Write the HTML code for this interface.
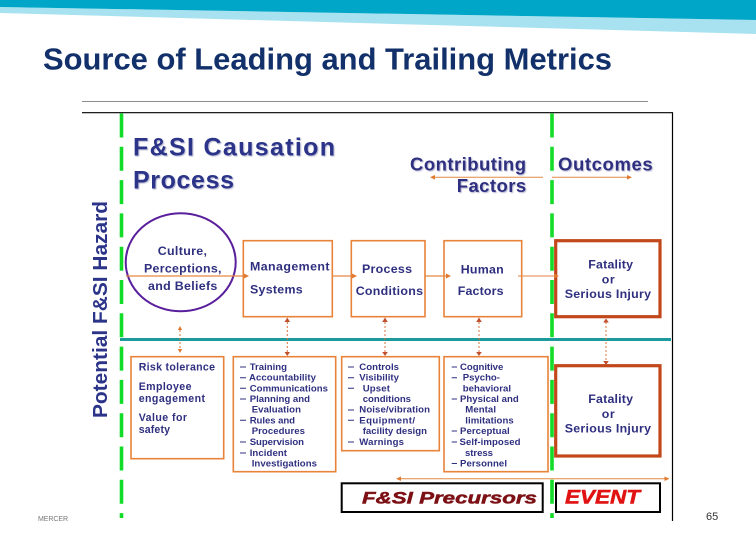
<!DOCTYPE html>
<html><head><meta charset="utf-8"><style>
html,body{margin:0;padding:0;background:#fff;width:756px;height:540px;overflow:hidden}
svg{display:block}
text{font-family:"Liberation Sans",sans-serif;font-weight:bold;fill:#2f2f80}
.b{fill:none;stroke:#e8833a;stroke-width:1.6}
.r{fill:none;stroke:#c2481c;stroke-width:3.2}
.k{fill:none;stroke:#000;stroke-width:2}
.h{font-size:18.5px;filter:drop-shadow(1px 1px .4px #b5b5d0)}
.t{font-size:25px;fill:#2b3488;filter:drop-shadow(1px 1px .4px #b5b5d0)}
.m{font-size:12.4px}
.s{font-size:10.6px}
.l{font-size:9.6px}
.g{stroke:#12dc28;stroke-width:3.6;stroke-dasharray:24 9.3;fill:none}
.o{stroke:#e08a45;stroke-width:1;fill:none}
.d{stroke:#d9733a;stroke-width:1;stroke-dasharray:2 2;fill:none}
.ah{fill:#e07a30}
.ad{fill:#c0502e}
.ds{stroke:#2f2f80;stroke-width:1;fill:none}
.soft{filter:blur(.3px)}
</style></head><body>
<svg width="756" height="540" viewBox="0 0 756 540" xmlns="http://www.w3.org/2000/svg">
<polygon points="0,7 756,20 756,34 0,13" fill="#a8e2f0"/>
<polygon points="0,0 756,0 756,20 0,7" fill="#00a6c7"/>
<text x="43" y="69.5" font-size="31" textLength="569" lengthAdjust="spacingAndGlyphs" style="fill:#123069">Source of Leading and Trailing Metrics</text>
<line x1="82" y1="101.5" x2="648" y2="101.5" stroke="#8c8c8c" stroke-width="1"/>
<path d="M82 112.7H672.5V521" fill="none" stroke="#000" stroke-width="1.2"/>

<g class="soft">
<path class="g" d="M121.5 113.5V518"/>
<path class="g" d="M552 113.5V518"/>
<line x1="120" y1="339.5" x2="671" y2="339.5" stroke="#1c9a9c" stroke-width="3"/>

<text transform="translate(107,418) rotate(-90)" font-size="20" textLength="217" lengthAdjust="spacingAndGlyphs" style="fill:#2b3488">Potential F&amp;SI Hazard</text>
<text class="t" x="133" y="155.7" textLength="202">F&amp;SI Causation</text>
<text class="t" x="133" y="188.3" textLength="101">Process</text>
<text class="h" x="410" y="170.7" textLength="116">Contributing</text>
<text class="h" x="456.7" y="192" textLength="69.5">Factors</text>
<text class="h" x="558" y="170.7" textLength="94.7">Outcomes</text>

<path class="o" d="M434 177.3H543M552 177.3H628"/>
<polygon class="ah" points="430,177.3 435,175 435,179.6"/>
<polygon class="ah" points="632,177.3 627,175 627,179.6"/>

<ellipse cx="180.7" cy="262.3" rx="55" ry="49" fill="none" stroke="#5a1f9c" stroke-width="2"/>
<rect class="b" x="243.3" y="240.7" width="89" height="76"/>
<rect class="b" x="351.3" y="240.7" width="73.7" height="76"/>
<rect class="b" x="444" y="240.7" width="77.7" height="76"/>
<rect class="r" x="555.7" y="240.7" width="104.3" height="76"/>

<path d="M126 276H245M332 276H354M425 276H447" stroke="#e58640" stroke-width="1.2" fill="none"/>
<path d="M518 276H556" stroke="#e58640" stroke-width=".9" fill="none"/>
<polygon class="ah" points="249,276 244,273.5 244,278.5"/>
<polygon class="ah" points="357,276 352,273.5 352,278.5"/>
<polygon class="ah" points="451,276 446,273.5 446,278.5"/>
<polygon class="ah" points="559,276 554,273.5 554,278.5"/>

<text class="m" x="157.7" y="255" textLength="49.3">Culture,</text>
<text class="m" x="144" y="272.7" textLength="77.5">Perceptions,</text>
<text class="m" x="148" y="290" textLength="69.3">and Beliefs</text>
<text class="m" x="250" y="270.7" textLength="79.5">Management</text>
<text class="m" x="250" y="293.3" textLength="52.7">Systems</text>
<text class="m" x="362" y="273" textLength="50">Process</text>
<text class="m" x="355.7" y="295" textLength="67.3">Conditions</text>
<text class="m" x="460.7" y="273.3" textLength="43">Human</text>
<text class="m" x="457.7" y="295" textLength="45.8">Factors</text>
<text class="m" x="588.3" y="268.3" textLength="44.7">Fatality</text>
<text class="m" x="601.7" y="283.3" textLength="13">or</text>
<text class="m" x="564.7" y="298" textLength="86.3">Serious Injury</text>

<path class="d" d="M180 330V350M287.3 322V353M385 322V353M479 322V353M606 322V361"/>
<polygon class="ah" points="180,326 177.8,330 182.2,330"/>
<polygon class="ah" points="180,353 177.8,349 182.2,349"/>
<g class="ad">
<polygon points="287.3,317.5 284.5,322 290,322"/><polygon points="287.3,356 284.5,352 290,352"/>
<polygon points="385,317.5 382.2,322 387.8,322"/><polygon points="385,356 382.2,352 387.8,352"/>
<polygon points="479,317.5 476.2,322 481.8,322"/><polygon points="479,356 476.2,352 481.8,352"/>
<polygon points="606,318.5 603.2,322.5 608.8,322.5"/><polygon points="606,365 603.2,361 608.8,361"/>
</g>

<rect class="b" x="131" y="356.7" width="92.7" height="102"/>
<rect class="b" x="233.3" y="356.7" width="102.4" height="115"/>
<rect class="b" x="341.7" y="356.7" width="97.6" height="94"/>
<rect class="b" x="444" y="356.7" width="104" height="115"/>
<rect class="r" x="555.7" y="365.7" width="104.3" height="90.3"/>

<text class="s" x="138.7" y="370.7" textLength="76.3">Risk tolerance</text>
<text class="s" x="138.7" y="390" textLength="52.8">Employee</text>
<text class="s" x="138.7" y="402" textLength="66.3">engagement</text>
<text class="s" x="138.7" y="421" textLength="48.3">Value for</text>
<text class="s" x="138.7" y="433" textLength="31.3">safety</text>

<path class="ds" d="M240 367H246M240 377.7H246M240 388.3H246M240 399H246M240 420.3H246M240 442H246M240 453H246"/>
<text class="l" x="249.7" y="370" textLength="37.3">Training</text>
<text class="l" x="249" y="380.7" textLength="67">Accountability</text>
<text class="l" x="249.7" y="391.3" textLength="78.3">Communications</text>
<text class="l" x="249.7" y="402" textLength="60.3">Planning and</text>
<text class="l" x="251.7" y="412.7" textLength="49.3">Evaluation</text>
<text class="l" x="249.7" y="423.3" textLength="45.3">Rules and</text>
<text class="l" x="251.7" y="434" textLength="53.3">Procedures</text>
<text class="l" x="249.7" y="445" textLength="54.3">Supervision</text>
<text class="l" x="249.7" y="456" textLength="37.3">Incident</text>
<text class="l" x="251.7" y="466.7" textLength="65.3">Investigations</text>

<path class="ds" d="M348 367H354M348 377.7H354M348 388.3H354M348 410H354M348 420.3H354M348 442H354"/>
<text class="l" x="359.3" y="370" textLength="39.7">Controls</text>
<text class="l" x="359.3" y="380.7" textLength="39.7">Visibility</text>
<text class="l" x="362.7" y="391.3" textLength="27.3">Upset</text>
<text class="l" x="362.7" y="402" textLength="48.3">conditions</text>
<text class="l" x="359.3" y="412.7" textLength="70.7">Noise/vibration</text>
<text class="l" x="359.3" y="423.3" textLength="55.7">Equipment/</text>
<text class="l" x="362.7" y="434" textLength="64.3">facility design</text>
<text class="l" x="359.3" y="445" textLength="44.7">Warnings</text>

<path class="ds" d="M451.7 367H457M451.7 377.7H457M451.7 399H457M451.7 431H457M451.7 442H457M451.7 463.5H457"/>
<text class="l" x="460" y="370" textLength="43.3">Cognitive</text>
<text class="l" x="462.7" y="380.7" textLength="37.3">Psycho-</text>
<text class="l" x="462.7" y="391.3" textLength="48.3">behavioral</text>
<text class="l" x="460" y="402" textLength="58.7">Physical and</text>
<text class="l" x="465.3" y="412.7" textLength="30.7">Mental</text>
<text class="l" x="465.3" y="423.3" textLength="48.4">limitations</text>
<text class="l" x="460" y="434" textLength="49.7">Perceptual</text>
<text class="l" x="459.5" y="445" textLength="61">Self-imposed</text>
<text class="l" x="465" y="456" textLength="28">stress</text>
<text class="l" x="460" y="466.7" textLength="47">Personnel</text>

<text class="m" x="588.3" y="403" textLength="44.7">Fatality</text>
<text class="m" x="601.7" y="418" textLength="13">or</text>
<text class="m" x="564.7" y="432.3" textLength="86.3">Serious Injury</text>

<path class="o" d="M399 478.7H666"/>
<polygon class="ah" points="396,478.7 401,476.5 401,481"/>
<polygon class="ah" points="669.5,478.7 664.5,476.5 664.5,481"/>

<rect class="k" x="341.7" y="483.3" width="201" height="28.7"/>
<rect class="k" x="556" y="483.3" width="104" height="28.7"/>
<text x="362" y="503.5" font-size="17" textLength="175" lengthAdjust="spacingAndGlyphs" style="font-style:italic;fill:#7c1014;stroke:#7c1014;stroke-width:.5">F&amp;SI Precursors</text>
<text x="565" y="503.5" font-size="19" textLength="75" lengthAdjust="spacingAndGlyphs" style="font-style:italic;fill:#e01212;stroke:#e01212;stroke-width:.5">EVENT</text>
</g>

<text x="38" y="521" font-size="7" textLength="30" style="font-weight:normal;fill:#777">MERCER</text>
<text x="706" y="520" font-size="11" style="font-weight:normal;fill:#333">65</text>
</svg>
</body></html>
